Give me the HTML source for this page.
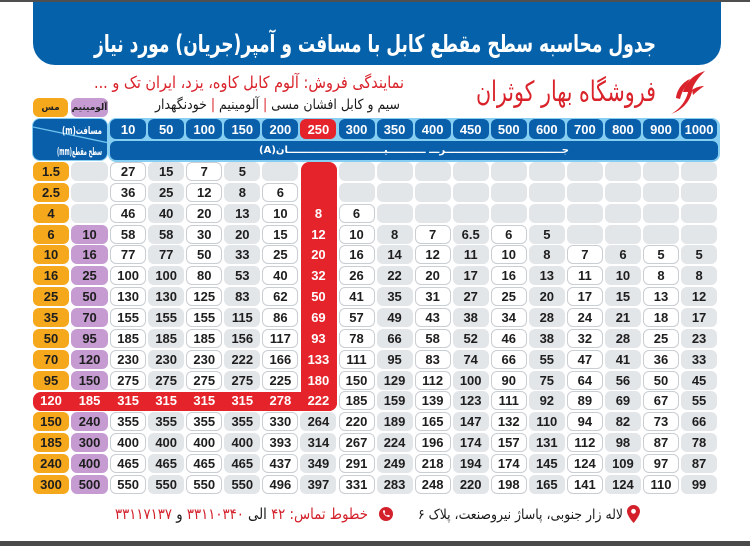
<!DOCTYPE html>
<html><head><meta charset="utf-8">
<style>
*{box-sizing:border-box;margin:0;padding:0}
body{width:750px;height:546px;position:relative;overflow:hidden;background:#fff;font-family:"Liberation Sans","DejaVu Sans",sans-serif}
.topline{position:absolute;left:0;top:0;width:750px;height:2px;background:#4f4f4f}
.botline{position:absolute;left:0;top:541px;width:750px;height:5px;background:#4a4a4a}
.banner{position:absolute;left:33px;top:2px;width:688px;height:63px;background:#0562aa;border-radius:0 0 22px 22px}
.pill{position:absolute;top:98px;height:19px;border-radius:6px;display:flex;align-items:center;justify-content:center;font-family:"DejaVu Sans",sans-serif;font-weight:bold;font-size:9px;color:#222}
.band{position:absolute;left:108px;top:117.5px;width:612px;height:44.5px;background:#86cff2;border-radius:8px}
.hd{position:absolute;left:110.14px;top:119px;display:grid;grid-template-columns:repeat(16,36px);column-gap:2.07px}
.hd div{height:20px;border-radius:6px;background:#0a5fab;color:#fff;font-weight:bold;font-size:13px;display:flex;align-items:center;justify-content:center}
.hd div.red{background:#e5232a}
.cur{position:absolute;left:110px;top:141px;width:608px;height:19px;background:#0a5fab;border-radius:6px;color:#fff;font-weight:bold;font-size:10px;display:flex;align-items:center;justify-content:center;font-family:"DejaVu Sans",sans-serif}
.lh{position:absolute;left:32px;top:118px;width:76px;height:43px;background:#0a5fab;border:1.5px solid #86cff2;border-radius:8px;overflow:hidden}
.redcol{position:absolute;left:300.5px;top:162px;width:36px;height:248.6px;background:#e5232a;border-radius:8px}
.redbar{position:absolute;left:33px;top:391.6px;width:303.5px;height:19px;background:#e5232a;border-radius:8px}
.tb{position:absolute;left:33px;top:162px;display:grid;grid-template-columns:36px 37px repeat(16,36px);column-gap:2.07px;row-gap:1.87px;grid-auto-rows:19px}
.tb div{border-radius:6px;display:flex;align-items:center;justify-content:center;font-weight:bold;font-size:13px;color:#1e1e1e}
.tb .w{background:#fff;border:1px solid #c9ced3}
.tb .g{background:#e3e6e9}
.tb .o{background:#f6a81c}
.tb .p{background:#c59bd1}
.tb .r{background:transparent;color:#fff}
svg.ov{position:absolute;left:0;top:0}
svg.ov text{font-family:"DejaVu Sans",sans-serif;direction:rtl;unicode-bidi:embed}
</style></head><body>
<div class="topline"></div>
<div class="banner"></div>

<svg style="position:absolute;left:668px;top:70px" width="40" height="45" viewBox="0 0 40 45">
<path d="M3 44 C14 38 21 27 21 14 L25 13 C25 28 17 39 3 44Z" fill="#d9222a"/>
<path d="M15 22 C18 11 27 4 37 1 C31 7 26 13 23 22Z" fill="#d9222a"/>
<path d="M8 28 C9 19 15 12 22 9 C18 15 14 21 12 29Z" fill="#d9222a"/>
<path d="M24 20 C28 17 33 16 36 16 C32 19 28 22 25 25Z" fill="#d9222a"/>
</svg>

<div class="pill" style="left:33px;width:35px;background:#f6a81c">مس</div>
<div class="pill" style="left:71px;width:37px;background:#c59bd1">آلومینیم</div>

<div class="lh">
<svg style="position:absolute;left:0;top:0" width="76" height="43"><line x1="0" y1="8" x2="76" y2="24" stroke="#6fc3ee" stroke-width="1.3"/></svg>
</div>

<div class="band"></div>
<div class="hd">
<div>10</div><div>50</div><div>100</div><div>150</div><div>200</div><div class="red">250</div><div>300</div><div>350</div><div>400</div><div>450</div><div>500</div><div>600</div><div>700</div><div>800</div><div>900</div><div>1000</div>
</div>
<div class="cur" dir="rtl">جــــــــــــــــــــــــــــــــــرـــ ـــــــــــیــــــــــــــــــــــــــــان(A)</div>

<div class="redcol"></div>
<div class="redbar"></div>

<div class="tb">
<div class="o">1.5</div><div class="g"></div><div class="w">27</div><div class="g">15</div><div class="w">7</div><div class="g">5</div><div class="g"></div><div class="r"></div><div class="g"></div><div class="g"></div><div class="g"></div><div class="g"></div><div class="g"></div><div class="g"></div><div class="g"></div><div class="g"></div><div class="g"></div><div class="g"></div>
<div class="o">2.5</div><div class="g"></div><div class="w">36</div><div class="g">25</div><div class="w">12</div><div class="g">8</div><div class="w">6</div><div class="r"></div><div class="g"></div><div class="g"></div><div class="g"></div><div class="g"></div><div class="g"></div><div class="g"></div><div class="g"></div><div class="g"></div><div class="g"></div><div class="g"></div>
<div class="o">4</div><div class="g"></div><div class="w">46</div><div class="g">40</div><div class="w">20</div><div class="g">13</div><div class="w">10</div><div class="r">8</div><div class="w">6</div><div class="g"></div><div class="g"></div><div class="g"></div><div class="g"></div><div class="g"></div><div class="g"></div><div class="g"></div><div class="g"></div><div class="g"></div>
<div class="o">6</div><div class="p">10</div><div class="w">58</div><div class="g">58</div><div class="w">30</div><div class="g">20</div><div class="w">15</div><div class="r">12</div><div class="w">10</div><div class="g">8</div><div class="w">7</div><div class="g">6.5</div><div class="w">6</div><div class="g">5</div><div class="g"></div><div class="g"></div><div class="g"></div><div class="g"></div>
<div class="o">10</div><div class="p">16</div><div class="w">77</div><div class="g">77</div><div class="w">50</div><div class="g">33</div><div class="w">25</div><div class="r">20</div><div class="w">16</div><div class="g">14</div><div class="w">12</div><div class="g">11</div><div class="w">10</div><div class="g">8</div><div class="w">7</div><div class="g">6</div><div class="w">5</div><div class="g">5</div>
<div class="o">16</div><div class="p">25</div><div class="w">100</div><div class="g">100</div><div class="w">80</div><div class="g">53</div><div class="w">40</div><div class="r">32</div><div class="w">26</div><div class="g">22</div><div class="w">20</div><div class="g">17</div><div class="w">16</div><div class="g">13</div><div class="w">11</div><div class="g">10</div><div class="w">8</div><div class="g">8</div>
<div class="o">25</div><div class="p">50</div><div class="w">130</div><div class="g">130</div><div class="w">125</div><div class="g">83</div><div class="w">62</div><div class="r">50</div><div class="w">41</div><div class="g">35</div><div class="w">31</div><div class="g">27</div><div class="w">25</div><div class="g">20</div><div class="w">17</div><div class="g">15</div><div class="w">13</div><div class="g">12</div>
<div class="o">35</div><div class="p">70</div><div class="w">155</div><div class="g">155</div><div class="w">155</div><div class="g">115</div><div class="w">86</div><div class="r">69</div><div class="w">57</div><div class="g">49</div><div class="w">43</div><div class="g">38</div><div class="w">34</div><div class="g">28</div><div class="w">24</div><div class="g">21</div><div class="w">18</div><div class="g">17</div>
<div class="o">50</div><div class="p">95</div><div class="w">185</div><div class="g">185</div><div class="w">185</div><div class="g">156</div><div class="w">117</div><div class="r">93</div><div class="w">78</div><div class="g">66</div><div class="w">58</div><div class="g">52</div><div class="w">46</div><div class="g">38</div><div class="w">32</div><div class="g">28</div><div class="w">25</div><div class="g">23</div>
<div class="o">70</div><div class="p">120</div><div class="w">230</div><div class="g">230</div><div class="w">230</div><div class="g">222</div><div class="w">166</div><div class="r">133</div><div class="w">111</div><div class="g">95</div><div class="w">83</div><div class="g">74</div><div class="w">66</div><div class="g">55</div><div class="w">47</div><div class="g">41</div><div class="w">36</div><div class="g">33</div>
<div class="o">95</div><div class="p">150</div><div class="w">275</div><div class="g">275</div><div class="w">275</div><div class="g">275</div><div class="w">225</div><div class="r">180</div><div class="w">150</div><div class="g">129</div><div class="w">112</div><div class="g">100</div><div class="w">90</div><div class="g">75</div><div class="w">64</div><div class="g">56</div><div class="w">50</div><div class="g">45</div>
<div class="r">120</div><div class="r">185</div><div class="r">315</div><div class="r">315</div><div class="r">315</div><div class="r">315</div><div class="r">278</div><div class="r">222</div><div class="w">185</div><div class="g">159</div><div class="w">139</div><div class="g">123</div><div class="w">111</div><div class="g">92</div><div class="w">89</div><div class="g">69</div><div class="w">67</div><div class="g">55</div>
<div class="o">150</div><div class="p">240</div><div class="w">355</div><div class="g">355</div><div class="w">355</div><div class="g">355</div><div class="w">330</div><div class="g">264</div><div class="w">220</div><div class="g">189</div><div class="w">165</div><div class="g">147</div><div class="w">132</div><div class="g">110</div><div class="w">94</div><div class="g">82</div><div class="w">73</div><div class="g">66</div>
<div class="o">185</div><div class="p">300</div><div class="w">400</div><div class="g">400</div><div class="w">400</div><div class="g">400</div><div class="w">393</div><div class="g">314</div><div class="w">267</div><div class="g">224</div><div class="w">196</div><div class="g">174</div><div class="w">157</div><div class="g">131</div><div class="w">112</div><div class="g">98</div><div class="w">87</div><div class="g">78</div>
<div class="o">240</div><div class="p">400</div><div class="w">465</div><div class="g">465</div><div class="w">465</div><div class="g">465</div><div class="w">437</div><div class="g">349</div><div class="w">291</div><div class="g">249</div><div class="w">218</div><div class="g">194</div><div class="w">174</div><div class="g">145</div><div class="w">124</div><div class="g">109</div><div class="w">97</div><div class="g">87</div>
<div class="o">300</div><div class="p">500</div><div class="w">550</div><div class="g">550</div><div class="w">550</div><div class="g">550</div><div class="w">496</div><div class="g">397</div><div class="w">331</div><div class="g">283</div><div class="w">248</div><div class="g">220</div><div class="w">198</div><div class="g">165</div><div class="w">141</div><div class="g">124</div><div class="w">110</div><div class="g">99</div>
</div>

<svg style="position:absolute;left:627px;top:505px" width="13" height="18" viewBox="0 0 13 18"><path d="M6.5 0C3 0 0 2.8 0 6.3 0 11 6.5 18 6.5 18S13 11 13 6.3C13 2.8 10 0 6.5 0Z" fill="#d3202a"/><circle cx="6.5" cy="6.3" r="2.4" fill="#fff"/></svg>
<svg style="position:absolute;left:379px;top:507px" width="14" height="14" viewBox="0 0 14 14"><circle cx="7" cy="7" r="7" fill="#d3202a"/><path d="M4 3.5 L5.6 3.2 L6.3 5.3 L5.4 6 C5.9 7.2 6.8 8.1 8 8.6 L8.7 7.7 L10.8 8.4 L10.5 10 C7 10.2 3.8 7 4 3.5Z" fill="#fff"/></svg>

<svg class="ov" width="750" height="546">
<text x="375" y="52" text-anchor="middle" font-size="24" font-weight="bold" fill="#fff" textLength="562" lengthAdjust="spacingAndGlyphs">جدول محاسبه سطح مقطع کابل با مسافت و آمپر(جریان) مورد نیاز</text>
<text x="566" y="101" text-anchor="middle" font-size="28" fill="#d9222a" textLength="180" lengthAdjust="spacingAndGlyphs">فروشگاه بهار کوثران</text>
<text x="249" y="88" text-anchor="middle" font-size="16.5" fill="#d9222a" textLength="310" lengthAdjust="spacingAndGlyphs">نمایندگی فروش: آلوم کابل کاوه، یزد، ایران تک و ...</text>
<text x="277.5" y="109" text-anchor="middle" font-size="14" fill="#1a1a1a" textLength="245" lengthAdjust="spacingAndGlyphs">سیم و کابل افشان مسی <tspan fill="#d9222a">|</tspan> آلومینیم <tspan fill="#d9222a">|</tspan> خودنگهدار</text>
<text x="82" y="134" text-anchor="middle" font-size="10.5" font-weight="bold" fill="#fff" textLength="40" lengthAdjust="spacingAndGlyphs">مسافت(m)</text>
<text x="79.5" y="155" text-anchor="middle" font-size="10.5" font-weight="bold" fill="#fff" textLength="45" lengthAdjust="spacingAndGlyphs">سطح مقطع(mm)</text>
<text x="520.5" y="519" text-anchor="middle" font-size="14" fill="#1a1a1a" textLength="205" lengthAdjust="spacingAndGlyphs">لاله زار جنوبی، پاساژ نیروصنعت، پلاک ۶</text>
<text x="241.5" y="519" text-anchor="middle" font-size="15" fill="#d3202a" textLength="253" lengthAdjust="spacingAndGlyphs">خطوط تماس: ۴۲ <tspan fill="#1a1a1a">الی</tspan> ۳۳۱۱۰۳۴۰ <tspan fill="#1a1a1a">و</tspan> ۳۳۱۱۷۱۳۷</text>
</svg>

<div class="botline"></div>
</body></html>
